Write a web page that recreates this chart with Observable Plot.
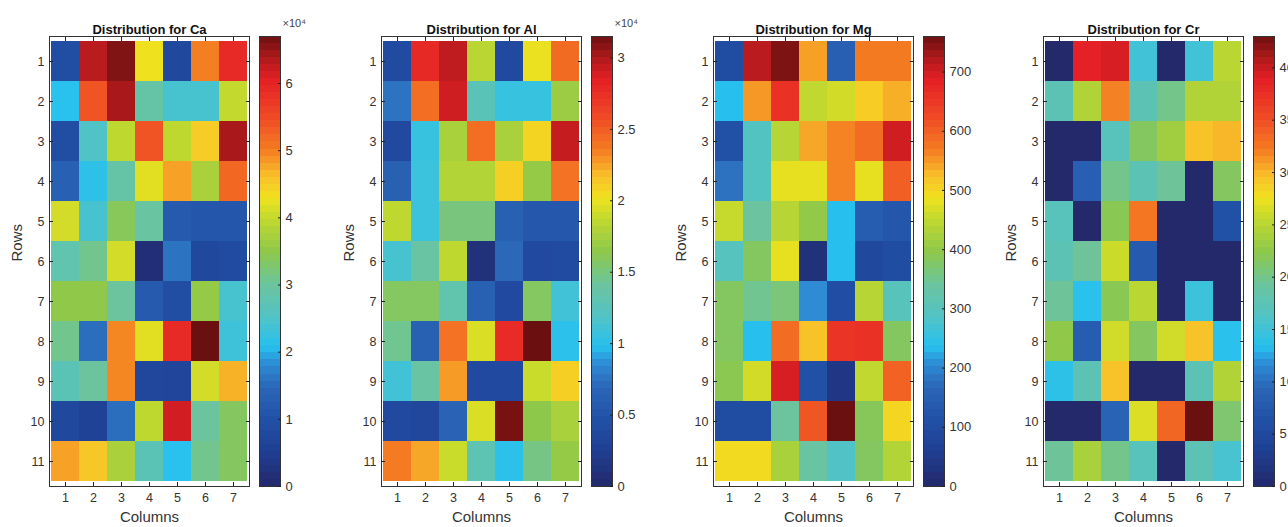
<!DOCTYPE html>
<html><head><meta charset="utf-8">
<script src="https://cdn.jsdelivr.net/npm/d3@7"></script>
<script src="https://cdn.jsdelivr.net/npm/@observablehq/plot@0.6"></script>
<style>
html,body{margin:0;padding:0;background:#fff;width:1288px;height:527px;overflow:hidden;}
#root{position:relative;width:1288px;height:527px;overflow:hidden;}
.panel{position:absolute;top:0;}
svg{overflow:visible;max-width:none !important;}
</style></head><body><div id="root"></div>
<script>
const colLabels = [1, 2, 3, 4, 5, 6, 7];
const rowLabels = [1, 2, 3, 4, 5, 6, 7, 8, 9, 10, 11];

// values (rows 1..11, columns 1..7)
const caValues = [
  [9000, 63000, 66000, 43000, 8000, 50000, 59000],
  [21000, 54000, 64000, 29000, 24000, 24000, 40000],
  [9000, 25000, 39500, 54000, 39500, 45000, 64000],
  [13500, 21500, 29000, 42000, 48000, 37500, 52000],
  [41000, 24000, 34000, 29500, 12000, 11500, 11500],
  [28000, 31000, 41000, 1500, 16000, 8000, 8500],
  [35000, 35000, 30000, 12000, 9000, 35500, 24000],
  [31000, 15500, 49500, 42000, 59000, 67000, 23000],
  [27000, 30000, 49500, 7500, 7000, 41000, 47000],
  [8000, 6000, 15500, 39500, 61500, 30000, 33500],
  [48000, 45500, 37500, 27000, 21000, 31000, 33500]
];
const alValues = [
  [4000, 27800, 29500, 18300, 3800, 20000, 24300],
  [7500, 24200, 29000, 12600, 10500, 10500, 17000],
  [3800, 10500, 17600, 24200, 17600, 20800, 29300],
  [6300, 10700, 18000, 18000, 21000, 16700, 24000],
  [18600, 10700, 15000, 15000, 6300, 5500, 5500],
  [11300, 13800, 18600, 1000, 7000, 3800, 4000],
  [15800, 15800, 13200, 6300, 3800, 15800, 11000],
  [14500, 6300, 24000, 19500, 27700, 31500, 10000],
  [11000, 13800, 22700, 3800, 3800, 19000, 21000],
  [3800, 3500, 6600, 19500, 31200, 16400, 17600],
  [23600, 22400, 19000, 12900, 10000, 14800, 16700]
];
const mgValues = [
  [100, 715, 750, 545, 150, 570, 570],
  [235, 550, 660, 450, 465, 510, 535],
  [115, 290, 440, 540, 565, 585, 700],
  [180, 290, 480, 480, 565, 480, 600],
  [455, 340, 440, 400, 235, 145, 130],
  [295, 380, 480, 25, 235, 90, 100],
  [380, 350, 365, 205, 105, 440, 300],
  [380, 235, 585, 520, 655, 660, 380],
  [390, 465, 695, 115, 40, 450, 595],
  [100, 100, 340, 610, 760, 385, 500],
  [495, 495, 425, 335, 285, 380, 435]
];
const crValues = [
  [0, 38.7, 39.3, 15, 0, 15, 25],
  [17.5, 24.5, 32, 17.5, 20, 24.5, 24.5],
  [0, 0, 17, 21.5, 23.5, 29.5, 30],
  [0, 8.5, 20, 17.5, 19.5, 0, 21.5],
  [17, 0, 22, 32.5, 0, 0, 6.5],
  [17.5, 19.5, 26, 7.8, 0, 0, 0],
  [19.5, 13.5, 22, 25, 0, 14.7, 0],
  [22.5, 8.2, 26.2, 21.5, 26.2, 29.5, 13.5],
  [13.8, 17.5, 29.5, 0, 0, 17.5, 24.5],
  [0, 0, 9, 26.7, 33.5, 43, 21],
  [19.5, 24, 20, 17, 0, 17.5, 15.5]
];

const titles = ["Distribution for Ca", "Distribution for Al", "Distribution for Mg", "Distribution for Cr"];
const colorMax = [67000, 31500, 760, 43];
const caTicks = [0, 10000, 20000, 30000, 40000, 50000, 60000];
const alTicks = [0, 5000, 10000, 15000, 20000, 25000, 30000];
const mgTicks = [0, 100, 200, 300, 400, 500, 600, 700];
const crTicks = [0, 5, 10, 15, 20, 25, 30, 35, 40];
const exponents = ["\u00d710\u2074", "\u00d710\u2074", null, null];

// colormap (position, colour)
const cmapPos = [0, 0.08, 0.15, 0.22, 0.27, 0.31, 0.37, 0.45, 0.52, 0.60, 0.64, 0.69, 0.75, 0.82, 0.90, 0.95, 1];
const cmapCol = ["#23296b", "#1f3f93", "#2151a7", "#2b66b7", "#2e8bd4", "#27c1ef", "#4fc3c9", "#6cc49c", "#8ec84a", "#c6da2c", "#f0e21e", "#f9bf2a", "#f47a22", "#ef4a25", "#e52026", "#b01a1c", "#6b1010"];
const cmapScale = d3.scaleLinear().domain(cmapPos).range(cmapCol).interpolate(d3.interpolateRgb).clamp(true);
const cmap = t => cmapScale(t);

const FONT = "'Liberation Sans', Arial, Helvetica, sans-serif";
const panels = [
  {values: caValues, ticks: caTicks, fmt: d => d3.format("~g")(d / 10000)},
  {values: alValues, ticks: alTicks, fmt: d => d3.format("~g")(d / 10000)},
  {values: mgValues, ticks: mgTicks, fmt: d => String(d)},
  {values: crValues, ticks: crTicks, fmt: d => String(d)}
];
const offsets = [0, 332, 664, 994];

function heatmap(p, i) {
  const data = [];
  p.values.forEach((row, r) => row.forEach((v, c) => data.push({row: rowLabels[r], col: colLabels[c], value: v})));
  return Plot.plot({
    width: 260, height: 527,
    marginLeft: 49, marginRight: 11, marginTop: 36, marginBottom: 41,
    style: {fontFamily: FONT, fontSize: "12px", color: "#333", background: "transparent"},
    x: {type: "band", domain: colLabels, padding: 0},
    y: {type: "band", domain: rowLabels, padding: 0},
    color: {type: "linear", domain: [0, colorMax[i]], interpolate: cmap},
    marks: [
      Plot.cell(data, {x: "col", y: "row", fill: "value", shapeRendering: "crispEdges"}),
      Plot.frame({stroke: "#333", strokeWidth: 1}),
      Plot.axisX({anchor: "bottom", tickSize: 0, tickPadding: 7, fontSize: 12.5, fill: "#333", label: null}),
      Plot.axisX({anchor: "bottom", tickSize: 4, dy: -4, stroke: "#222", fill: "none", label: null}),
      Plot.axisX({anchor: "top", tickSize: 4, dy: 4, stroke: "#222", fill: "none", label: null}),
      Plot.axisY({anchor: "left", tickSize: 0, tickPadding: 5, fontSize: 12.5, fill: "#333", label: null}),
      Plot.axisY({anchor: "left", tickSize: 4, dx: 4, stroke: "#222", fill: "none", label: null}),
      Plot.axisY({anchor: "right", tickSize: 4, dx: -4, stroke: "#222", fill: "none", label: null}),
      Plot.text([titles[i]], {frameAnchor: "top", dy: -12, fontWeight: "bold", fontSize: 13, fill: "#111"}),
      Plot.text(["Columns"], {frameAnchor: "bottom", dy: 35, fontSize: 15, fill: "#333"}),
      Plot.text(["Rows"], {frameAnchor: "left", dx: -32, rotate: -90, fontSize: 15, fill: "#333"})
    ]
  });
}

function colorbar(p, i) {
  const N = 64, max = colorMax[i];
  const steps = d3.range(N).map(k => ({lo: k * max / N, hi: (k + 1) * max / N}));
  const marks = [
    Plot.rect(steps, {x1: d => 0, x2: d => 1, y1: "lo", y2: "hi", fill: d => (d.lo + d.hi) / 2, shapeRendering: "crispEdges", insetTop: -0.5}),
    Plot.frame({stroke: "#333", strokeWidth: 1}),
    Plot.axisY({anchor: "right", ticks: p.ticks, tickSize: 0, tickPadding: 5, tickFormat: p.fmt, fontSize: 13, fill: "#333", label: null}),
    Plot.axisY({anchor: "right", ticks: p.ticks, tickSize: 3, dx: -3, stroke: "#222", fill: "none", label: null})
  ];
  if (exponents[i]) marks.push(Plot.text([exponents[i]], {frameAnchor: "top-right", dx: 2, dy: -17, textAnchor: "start", fontSize: 11, fill: "#444"}));
  return Plot.plot({
    width: 50, height: 527,
    marginLeft: 0, marginRight: 29, marginTop: 36, marginBottom: 41,
    style: {fontFamily: FONT, fontSize: "12px", color: "#333", background: "transparent"},
    x: {domain: [0, 1], axis: null},
    y: {domain: [0, max], axis: null},
    color: {type: "linear", domain: [0, max], interpolate: cmap},
    marks
  });
}

const root = document.getElementById("root");
panels.forEach((p, i) => {
  const h = document.createElement("div");
  h.className = "panel"; h.style.left = offsets[i] + "px"; h.style.width = "260px";
  h.appendChild(heatmap(p, i));
  root.appendChild(h);
  const c = document.createElement("div");
  c.className = "panel"; c.style.left = (offsets[i] + 259) + "px"; c.style.width = "50px";
  c.appendChild(colorbar(p, i));
  root.appendChild(c);
});
</script></body></html>
